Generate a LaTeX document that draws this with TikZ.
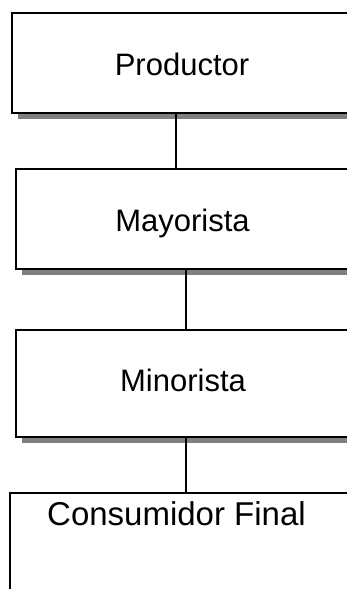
\documentclass[tikz,border=0pt]{standalone}
\usepackage{fontspec}
\setmainfont{Liberation Sans}
\usetikzlibrary{shadows}

\begin{document}
\begin{tikzpicture}[x=1pt,y=-1pt,line width=2pt,
  main node/.style={rectangle,draw,fill=white,inner sep=0pt,
    text height=24pt,text depth=0pt,
    font=\fontsize{31}{37}\selectfont,
    drop shadow={shadow xshift=6pt,shadow yshift=-6pt,fill=black!50,opacity=1}}]

 \fill[white] (0,0) rectangle (347,589);
 \useasboundingbox (0,0) rectangle (347,589);

 % boxes run past the right edge, text pulled back to the middle
 \node[main node,minimum width=380pt,minimum height=100pt] (prod) at (202,63) {\hspace*{-40pt}Productor};
 \node[main node,minimum width=373pt,minimum height=100pt] (mayor) at (202.5,219) {\hspace*{-40pt}Mayorista};
 \node[main node,minimum width=374pt,minimum height=107pt,text height=16pt] (minor) at (203,383.5) {\hspace*{-40pt}Minorista};
 \node[main node,minimum width=373pt,anchor=north,inner ysep=8pt,
   text height=24pt,text depth=80pt,font=\fontsize{33}{40}\selectfont] (cons) at (196.5,492) {\hspace*{-40pt}Consumidor Final};

 \path[every edge/.style={draw,line width=1.8pt}]
    ([xshift=-26pt]prod.south)	edge ([xshift=-26pt]prod.south |- mayor.north)
    ([xshift=-16.5pt]mayor.south)	edge ([xshift=-16.5pt]mayor.south |- minor.north)
    ([xshift=-17pt]minor.south)	edge ([xshift=-17pt]minor.south |- cons.north);

\end{tikzpicture}
\end{document}
